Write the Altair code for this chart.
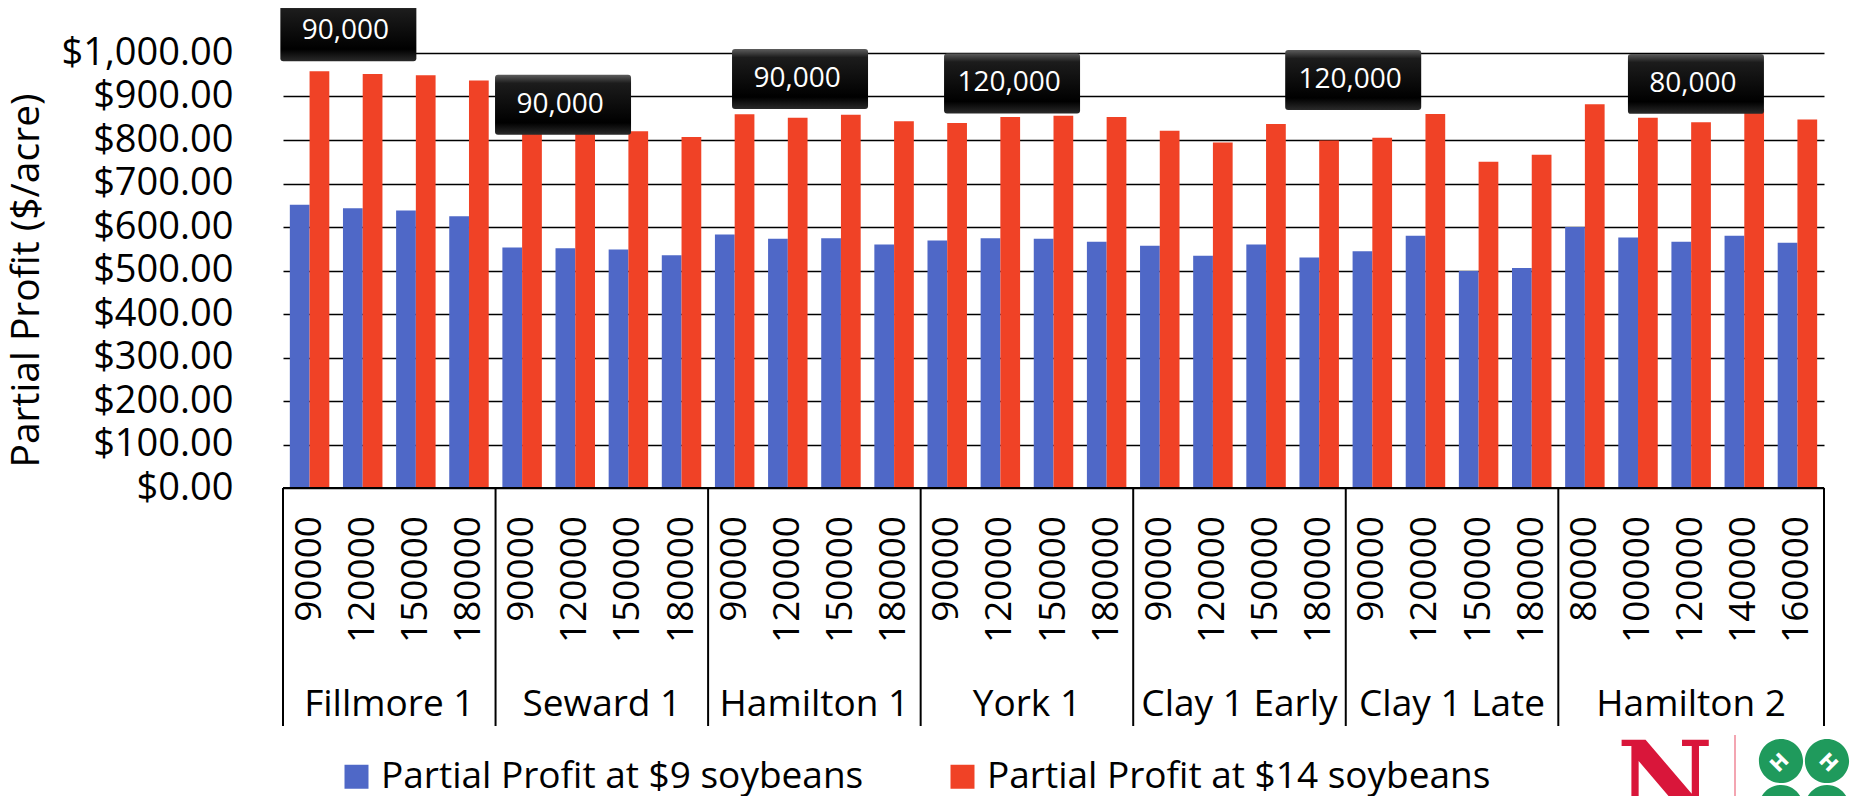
import altair as alt
import pandas as pd

# ---------------- data ----------------
groups = ["Fillmore 1", "Seward 1", "Hamilton 1", "York 1",
          "Clay 1 Early", "Clay 1 Late", "Hamilton 2"]
rates = [
    [90000, 120000, 150000, 180000],
    [90000, 120000, 150000, 180000],
    [90000, 120000, 150000, 180000],
    [90000, 120000, 150000, 180000],
    [90000, 120000, 150000, 180000],
    [90000, 120000, 150000, 180000],
    [80000, 100000, 120000, 140000, 160000],
]
profit_9 = [651, 643, 638, 625,
            553, 551, 548, 535,
            583, 573, 574, 560,
            569, 574, 573, 566,
            557, 534, 560, 530,
            544, 580, 499, 506,
            600, 576, 566, 580, 564]
profit_14 = [958, 952, 949, 937,
             826, 823, 820, 807,
             859, 851, 858, 843,
             839, 853, 856, 853,
             821, 794, 837, 799,
             805, 860, 750, 766,
             882, 851, 841, 872, 847]
series_names = ["Partial Profit at $9 soybeans", "Partial Profit at $14 soybeans"]
series_colors = ["#4F68C7", "#F04226"]

# call-out boxes (optimum seeding rate); position in category slots, value in $/acre
opt_labels = ["90,000", "90,000", "90,000", "120,000", "120,000", "80,000"]
opt_pos = [1.23, 5.27, 9.73, 13.72, 20.14, 26.59]
opt_val = [1050, 881, 940, 930, 938, 929]

# ---------------- tables ----------------
keys, key_rate = [], []
for g, rs in zip(groups, rates):
    for r in rs:
        keys.append(f"{g}|{r}")
        key_rate.append(str(r))

rows = []
for i, k in enumerate(keys):
    rows.append({"key": k, "series": series_names[0], "value": profit_9[i]})
    rows.append({"key": k, "series": series_names[1], "value": profit_14[i]})
bars_df = pd.DataFrame(rows)
rate_df = pd.DataFrame({"key": keys, "rate": key_rate})

sep_rows, lab_even, lab_odd = [], [], []
start = 0
for g, rs in zip(groups, rates):
    n = len(rs)
    sep_rows.append({"key": keys[start]})
    mid = keys[start + n // 2]
    if n % 2 == 0:
        lab_even.append({"key": mid, "group": g})
    else:
        lab_odd.append({"key": mid, "group": g})
    start += n
sep_df = pd.DataFrame(sep_rows)
sep_end_df = pd.DataFrame([{"key": keys[-1]}])
lab_even_df = pd.DataFrame(lab_even)
lab_odd_df = pd.DataFrame(lab_odd)
opt_df = pd.DataFrame({"pos": opt_pos, "value": opt_val, "label": opt_labels})

# ---------------- geometry ----------------
W, H = 1541, 435
FONT = "Open Sans"

xscale = alt.Scale(domain=keys, paddingInner=0, paddingOuter=0)
yscale = alt.Scale(domain=[0, 1000], nice=False)

y_axis = alt.Axis(
    values=list(range(0, 1001, 100)), format="$,.2f",
    labelFont=FONT, labelFontSize=38, labelColor="black", labelPadding=50,
    ticks=False, domain=False, grid=True, gridColor="black", gridWidth=1.7,
    title="Partial Profit ($/acre)", titleFont=FONT, titleFontSize=39,
    titleFontWeight="normal", titleColor="black", titleAngle=270,
    titleAlign="center", titleBaseline="middle", titleX=-257, titleY=227,
)

bars = alt.Chart(bars_df).mark_bar().encode(
    x=alt.X("key:N", scale=xscale, axis=None),
    xOffset=alt.XOffset("series:N",
                        scale=alt.Scale(domain=series_names, paddingInner=0, paddingOuter=0.346)),
    y=alt.Y("value:Q", scale=yscale, axis=y_axis),
    color=alt.Color(
        "series:N",
        scale=alt.Scale(domain=series_names, range=series_colors),
        legend=alt.Legend(
            title=None, orient="none", direction="horizontal",
            legendX=55, legendY=705, padding=0,
            symbolType="square", symbolSize=576, symbolStrokeWidth=0,
            labelFont=FONT, labelFontSize=37, labelColor="black", labelLimit=0,
            labelOffset=6, columnPadding=80,
        ),
    ),
)

base_line = alt.Chart(pd.DataFrame({"t": [1]})).mark_rule(color="black", strokeWidth=2).encode(
    x=alt.value(0), x2=alt.value(W), y=alt.value(H)
)
rate_labels = alt.Chart(rate_df).mark_text(
    font=FONT, fontSize=37, color="black", angle=270, align="right", baseline="middle"
).encode(
    x=alt.X("key:N", scale=xscale, axis=None, bandPosition=0.5),
    y=alt.value(H + 28), text="rate:N",
)
seps = alt.Chart(sep_df).mark_rule(color="black", strokeWidth=2).encode(
    x=alt.X("key:N", scale=xscale, axis=None, bandPosition=0),
    y=alt.value(H), y2=alt.value(H + 238),
)
sep_end = alt.Chart(sep_end_df).mark_rule(color="black", strokeWidth=2).encode(
    x=alt.X("key:N", scale=xscale, axis=None, bandPosition=1),
    y=alt.value(H), y2=alt.value(H + 238),
)
glab_even = alt.Chart(lab_even_df).mark_text(
    font=FONT, fontSize=37, color="black", align="center", baseline="alphabetic"
).encode(
    x=alt.X("key:N", scale=xscale, axis=None, bandPosition=0),
    y=alt.value(663), text="group:N",
)
glab_odd = alt.Chart(lab_odd_df).mark_text(
    font=FONT, fontSize=37, color="black", align="center", baseline="alphabetic"
).encode(
    x=alt.X("key:N", scale=xscale, axis=None, bandPosition=0.5),
    y=alt.value(663), text="group:N",
)

# logo-like decoration (bottom right)
logo_n = alt.Chart(pd.DataFrame({"t": ["N"]})).mark_text(
    font="DejaVu Serif", fontWeight="bold", fontSize=105, color="#D9163A",
    align="center", baseline="alphabetic"
).encode(x=alt.value(1382), y=alt.value(763), text="t:N")
logo_bar = alt.Chart(pd.DataFrame({"t": [1]})).mark_rule(color="#F3A5B1", strokeWidth=2).encode(
    x=alt.value(1452), y=alt.value(682), y2=alt.value(760)
)
clover_path = ("M0.02,-0.5 A0.48,0.48 0 1,0 0.98,-0.5 A0.48,0.48 0 1,0 0.02,-0.5 Z "
               "M-0.98,-0.5 A0.48,0.48 0 1,0 -0.02,-0.5 A0.48,0.48 0 1,0 -0.98,-0.5 Z "
               "M0.02,0.5 A0.48,0.48 0 1,0 0.98,0.5 A0.48,0.48 0 1,0 0.02,0.5 Z "
               "M-0.98,0.5 A0.48,0.48 0 1,0 -0.02,0.5 A0.48,0.48 0 1,0 -0.98,0.5 Z")
logo_clover = alt.Chart(pd.DataFrame({"t": [1]})).mark_point(
    shape=clover_path, filled=True, fill="#1F9A5C", strokeWidth=0, opacity=1, size=8464
).encode(x=alt.value(1521), y=alt.value(731))
logo_h1 = alt.Chart(pd.DataFrame({"t": ["H"]})).mark_text(
    font="DejaVu Sans", fontWeight="bold", fontSize=20, color="white",
    align="center", baseline="middle", angle=315
).encode(x=alt.value(1497), y=alt.value(710), text="t:N")
logo_h2 = alt.Chart(pd.DataFrame({"t": ["H"]})).mark_text(
    font="DejaVu Sans", fontWeight="bold", fontSize=20, color="white",
    align="center", baseline="middle", angle=45
).encode(x=alt.value(1545), y=alt.value(710), text="t:N")

main = alt.layer(bars, base_line, rate_labels, seps, sep_end, glab_even, glab_odd,
                 logo_n, logo_bar, logo_clover, logo_h1, logo_h2)

box_path = ("M-0.956,-0.441 L0.956,-0.441 Q1,-0.441 1,-0.397 L1,0.397 Q1,0.441 0.956,0.441 "
            "L-0.956,0.441 Q-1,0.441 -1,0.397 L-1,-0.397 Q-1,-0.441 -0.956,-0.441 Z")
box_fill = alt.LinearGradient(
    gradient="linear", x1=0, x2=0, y1=0, y2=1,
    stops=[alt.GradientStop(color="#5c5c5c", offset=0),
           alt.GradientStop(color="#1c1c1c", offset=0.14),
           alt.GradientStop(color="#000000", offset=0.8),
           alt.GradientStop(color="#2a2a2a", offset=1)],
)
opt_x = alt.X("pos:Q", scale=alt.Scale(domain=[0, 29], nice=False, zero=False), axis=None)
opt_y = alt.Y("value:Q", scale=yscale, axis=None)
boxes = alt.Chart(opt_df).mark_point(
    shape=box_path, filled=True, fill=box_fill, strokeWidth=0, opacity=1, size=18496
).encode(x=opt_x, y=opt_y)
box_text = alt.Chart(opt_df).mark_text(
    font=FONT, fontSize=28, color="white", align="center", baseline="middle", dx=-3
).encode(x=opt_x, y=opt_y, text="label:N")
ann = alt.layer(boxes, box_text)

chart = alt.layer(main, ann).resolve_scale(
    x="independent", y="independent"
).properties(
    width=W, height=H,
    autosize=alt.AutoSizeParams(type="none"),
    padding={"left": 275, "top": 45, "right": 27, "bottom": 308},
).configure_view(stroke=None)

chart.save("out.html", embed_options={"renderer": "svg", "actions": False})
